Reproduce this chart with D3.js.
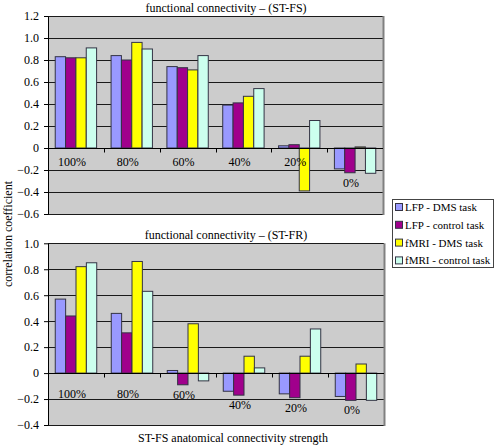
<!DOCTYPE html>
<html>
<head>
<meta charset="utf-8">
<script src="https://cdn.jsdelivr.net/npm/d3@7"></script>
<style>
  body { margin: 0; background: #fff; }
  svg { display: block; }
  svg text { font-family: "Liberation Serif", "Times New Roman", Times, "DejaVu Serif", serif !important; fill: #000; }
</style>
</head>
<body>
<svg id="chart" width="496" height="445"></svg>
<script>
// ---- data ----
const categories = ["100%", "80%", "60%", "40%", "20%", "0%"];
const seriesNames = ["LFP - DMS task", "LFP - control task", "fMRI - DMS task", "fMRI - control task"];
const seriesColors = ["#9999ff", "#a0008c", "#ffff00", "#ccffee"];

const stfsLfpDms     = [0.83, 0.84, 0.74, 0.39, 0.02, -0.19];
const stfsLfpControl = [0.82, 0.80, 0.73, 0.41, 0.03, -0.225];
const stfsFmriDms    = [0.82, 0.96, 0.71, 0.47, -0.39, 0.01];
const stfsFmriCtrl   = [0.91, 0.90, 0.84, 0.54, 0.25, -0.23];

const stfrLfpDms     = [0.57, 0.46, 0.02, -0.14, -0.16, -0.18];
const stfrLfpControl = [0.44, 0.31, -0.09, -0.17, -0.19, -0.21];
const stfrFmriDms    = [0.82, 0.86, 0.38, 0.13, 0.13, 0.07];
const stfrFmriCtrl   = [0.85, 0.63, -0.06, 0.04, 0.34, -0.21];

const topTicks = [-0.6, -0.4, -0.2, 0, 0.2, 0.4, 0.6, 0.8, 1.0, 1.2];
const bottomTicks = [-0.4, -0.2, 0, 0.2, 0.4, 0.6, 0.8, 1.0];

const topTitle = "functional connectivity – (ST-FS)";
const bottomTitle = "functional connectivity – (ST-FR)";
const xAxisTitle = "ST-FS anatomical connectivity strength";
const yAxisTitle = "correlation coefficient";

// ---- drawing ----
const FONT = "'Liberation Serif', 'Times New Roman', Times, 'DejaVu Serif', serif";
const svg = d3.select("#chart").attr("font-family", FONT);
const fmt = d => Math.abs(d) < 1e-9 ? "0" : d3.format(".1f")(d);

function panel(cfg) {
  const { series, ticks, x0px, x1px, yTop, yBottom, title, titleY, labelOffset } = cfg;
  const y = d3.scaleLinear().domain([ticks[0], ticks[ticks.length - 1]]).range([yBottom, yTop]);
  const x0 = d3.scaleBand().domain(categories).range([x0px, x1px]).paddingInner(0).paddingOuter(0);
  const x1 = d3.scaleBand().domain(seriesNames).range([0, x0.bandwidth()]).paddingInner(0).paddingOuter(0.7);

  const g = svg.append("g");
  g.append("rect").attr("x", x0px).attr("y", yTop).attr("width", x1px - x0px).attr("height", yBottom - yTop)
    .attr("fill", "#cccccc");
  g.append("g").selectAll("line").data(ticks).join("line")
    .attr("x1", x0px).attr("x2", x1px)
    .attr("y1", d => Math.round(y(d)) + 0.5).attr("y2", d => Math.round(y(d)) + 0.5)
    .attr("stroke", "#1a1a1a").attr("stroke-width", 1);
  g.append("line").attr("x1", x1px + 0.5).attr("x2", x1px + 0.5).attr("y1", yTop).attr("y2", yBottom + 1)
    .attr("stroke", "#808080").attr("stroke-width", 2);

  const rows = categories.map((c, i) => ({ c, vals: series.map((s, k) => ({ k, v: s[i] })) }));
  const grp = g.append("g").selectAll("g").data(rows).join("g")
    .attr("transform", d => `translate(${x0(d.c)},0)`);
  grp.selectAll("rect").data(d => d.vals).join("rect")
    .attr("x", d => x1(seriesNames[d.k]))
    .attr("width", x1.bandwidth())
    .attr("y", d => y(Math.max(0, d.v)))
    .attr("height", d => Math.abs(y(d.v) - y(0)))
    .attr("fill", d => seriesColors[d.k])
    .attr("stroke", "#333344").attr("stroke-width", 1);

  const zero = Math.round(y(0)) + 0.5;
  g.append("line").attr("x1", x0px).attr("x2", x1px).attr("y1", zero).attr("y2", zero)
    .attr("stroke", "#000").attr("stroke-width", 1);
  g.append("g").selectAll("line").data(categories.slice(1)).join("line")
    .attr("x1", d => Math.round(x0(d)) + 0.5).attr("x2", d => Math.round(x0(d)) + 0.5)
    .attr("y1", zero).attr("y2", zero + 4)
    .attr("stroke", "#000");

  g.append("g").selectAll("text").data(rows).join("text")
    .attr("x", d => x0(d.c) + x0.bandwidth() / 2 - 4)
    .attr("y", d => Math.max(y(0) + labelOffset, y(Math.min(0, d.vals[0].v, d.vals[1].v)) + 10) + 4)
    .attr("text-anchor", "middle")
    .attr("font-family", FONT)
    .attr("font-size", 12)
    .text(d => d.c);

  const ax = g.append("g").attr("transform", `translate(${x0px},0)`)
    .call(d3.axisLeft(y).tickValues(ticks).tickFormat(fmt).tickSizeOuter(0).tickSizeInner(4).tickPadding(5));
  ax.attr("font-family", FONT);
  ax.select(".domain").attr("stroke", "#000");
  ax.selectAll(".tick text").attr("font-size", 12).attr("font-family", FONT).attr("fill", "#000");

  g.append("text").attr("x", 226).attr("y", titleY).attr("text-anchor", "middle")
    .attr("font-family", FONT).attr("font-size", 12).text(title);
}

panel({
  series: [stfsLfpDms, stfsLfpControl, stfsFmriDms, stfsFmriCtrl],
  ticks: topTicks, x0px: 48, x1px: 383, yTop: 16, yBottom: 214,
  title: topTitle, titleY: 12, labelOffset: 14
});
panel({
  series: [stfrLfpDms, stfrLfpControl, stfrFmriDms, stfrFmriCtrl],
  ticks: bottomTicks, x0px: 48, x1px: 384, yTop: 243.3, yBottom: 425,
  title: bottomTitle, titleY: 239, labelOffset: 21
});

svg.append("text").attr("x", 233).attr("y", 442).attr("text-anchor", "middle")
  .attr("font-family", FONT).attr("font-size", 12).text(xAxisTitle);
svg.append("text").attr("transform", "translate(12,234) rotate(-90)").attr("text-anchor", "middle")
  .attr("font-family", FONT).attr("font-size", 12).text(yAxisTitle);

const lg = svg.append("g").attr("transform", "translate(392,199)");
lg.append("rect").attr("x", 0.5).attr("y", 0.5).attr("width", 101).attr("height", 68)
  .attr("fill", "#fff").attr("stroke", "#444").attr("stroke-width", 1);
const items = lg.selectAll("g").data(seriesNames).join("g")
  .attr("transform", (d, i) => `translate(0,${8 + i * 17.8})`);
items.append("rect").attr("x", 3.5).attr("y", -3.5).attr("width", 7).attr("height", 7)
  .attr("fill", (d, i) => seriesColors[i]).attr("stroke", "#333344");
items.append("text").attr("x", 13).attr("y", 4).attr("font-family", FONT).attr("font-size", 11).text(d => d);
</script>
</body>
</html>
